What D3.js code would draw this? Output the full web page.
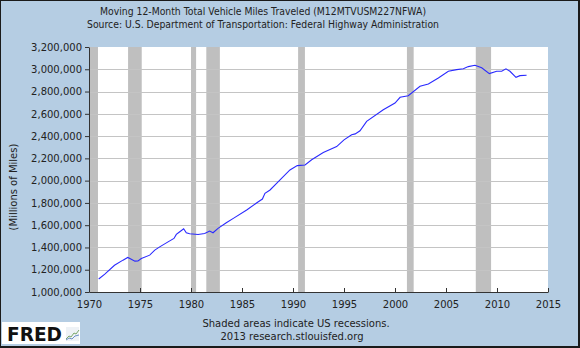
<!DOCTYPE html>
<html>
<head>
<meta charset="utf-8">
<script src="https://cdn.jsdelivr.net/npm/d3@7"></script>
<style>
  body { margin: 0; padding: 0; background: #fff; }
  svg text { font-family: "DejaVu Sans", Verdana, sans-serif; fill: #222; }
</style>
</head>
<body>
<svg id="chart" width="580" height="348"></svg>
<script>
// vehicle miles traveled, moving 12-month total (millions of miles)
var years = [1970.95, 1971.55, 1972.5, 1973.33, 1973.8, 1974.1, 1974.5, 1974.8, 1975.13, 1975.95,
	1976.45, 1976.93, 1977.75, 1978.33, 1978.56, 1978.9, 1979.28, 1979.54, 1979.87, 1980.69,
	1981.34, 1981.83, 1982.16, 1982.65, 1983.46, 1984.15, 1985.46, 1986.6, 1987.0, 1987.25,
	1987.75, 1988.56, 1989.7, 1990.42, 1991.18, 1991.83, 1992.97, 1994.28, 1995.0, 1995.75,
	1996.1, 1996.57, 1997.22, 1998.85, 2000.0, 2000.5, 2001.3, 2002.45, 2003.27, 2004.25,
	2005.23, 2006.05, 2006.7, 2007.19, 2007.84, 2008.5, 2009.25, 2009.97, 2010.46, 2010.88,
	2011.27, 2011.86, 2012.25, 2012.9]
var miles = [1117000, 1160000, 1240000, 1286000, 1310000, 1297000, 1277000, 1279000, 1301000, 1331000,
	1376000, 1405000, 1450000, 1481000, 1517000, 1541000, 1568000, 1532000, 1523000, 1517000,
	1526000, 1547000, 1532000, 1571000, 1622000, 1661000, 1736000, 1811000, 1835000, 1886000,
	1916000, 1991000, 2096000, 2135000, 2141000, 2187000, 2252000, 2306000, 2366000, 2412000,
	2420000, 2448000, 2532000, 2637000, 2697000, 2748000, 2763000, 2847000, 2868000, 2922000,
	2982000, 2997000, 3004000, 3024000, 3036000, 3013000, 2961000, 2982000, 2982000, 3004000,
	2982000, 2928000, 2943000, 2946000]

// NBER recessions, start/end as decimal years
var recessionStart = [1969.92, 1973.83, 1980.0, 1981.5, 1990.5, 2001.17, 2007.92]
var recessionEnd = [1970.88, 1975.17, 1980.5, 1982.83, 1991.17, 2001.83, 2009.42]

var xTicks = [1970, 1975, 1980, 1985, 1990, 1995, 2000, 2005, 2010, 2015]
var yTicks = [1000000, 1200000, 1400000, 1600000, 1800000, 2000000, 2200000, 2400000, 2600000, 2800000, 3000000, 3200000]

var svg = d3.select('#chart')
var W = 580, H = 348
var plotLeft = 89, plotRight = 548, plotTop = 47, plotBottom = 292

// page background + frame
svg.append('rect').attr('x', 0).attr('y', 0).attr('width', W).attr('height', H).attr('fill', '#b5cde3')
svg.append('rect').attr('x', 0.5).attr('y', 0.5).attr('width', W - 2).attr('height', H - 2)
	.attr('fill', 'none').attr('stroke', '#1a1a1a').attr('stroke-width', 1)
svg.append('line').attr('x1', W - 1).attr('x2', W - 1).attr('y1', 0).attr('y2', H).attr('stroke', '#1a1a1a').attr('stroke-width', 2)
svg.append('line').attr('x1', 0).attr('x2', W).attr('y1', H - 1).attr('y2', H - 1).attr('stroke', '#1a1a1a').attr('stroke-width', 2)

xScale = d3.scaleLinear().domain([1970, 2015]).range([plotLeft, plotRight])
yScale = d3.scaleLinear().domain([1000000, 3200000]).range([plotBottom, plotTop])

svg.append('rect')
	.attr('x', plotLeft).attr('y', plotTop)
	.attr('width', plotRight - plotLeft).attr('height', plotBottom - plotTop)
	.attr('fill', '#fff')

// recession bands
svg.append('g').selectAll('rect')
	.data(recessionStart)
	.enter()
	.append('rect')
	.attr('x', function (d) { return xScale(Math.max(d, 1970)) })
	.attr('y', plotTop)
	.attr('width', function (d, i) { return xScale(recessionEnd[i]) - xScale(Math.max(d, 1970)) })
	.attr('height', plotBottom - plotTop)
	.attr('fill', '#bfbfbf')

// horizontal grid
svg.append('g').selectAll('line')
	.data(yTicks.slice(1, -1))
	.enter()
	.append('line')
	.attr('x1', plotLeft).attr('x2', plotRight)
	.attr('y1', function (d) { return Math.round(yScale(d)) + 0.5 })
	.attr('y2', function (d) { return Math.round(yScale(d)) + 0.5 })
	.attr('stroke', '#c4c4c4').attr('stroke-width', 1)

// series
var pts = years.map(function (y, i) { return [xScale(y), yScale(miles[i])] })
svg.append('path')
	.attr('d', d3.line()(pts))
	.attr('fill', 'none')
	.attr('stroke', '#2a2aff')
	.attr('stroke-width', 1.1)

// axes
var yAxis = svg.append('g')
	.attr('transform', 'translate(' + plotLeft + ',0)')
	.call(d3.axisLeft(yScale).tickValues(yTicks).tickFormat(d3.format(',')).tickSizeInner(4).tickSizeOuter(0).tickPadding(3))
var xAxis = svg.append('g')
	.attr('transform', 'translate(0,' + plotBottom + ')')
	.call(d3.axisBottom(xScale).tickValues(xTicks).tickFormat(d3.format('d')).tickSizeInner(-4).tickSizeOuter(0).tickPadding(9))
svg.selectAll('.domain, .tick line').attr('stroke', '#333')
svg.selectAll('.tick text').attr('font-size', 10).attr('fill', '#222')
svg.selectAll('.tick text').style('font-family', '"DejaVu Sans", Verdana, sans-serif')

// titles
svg.append('text').attr('x', 263).attr('y', 15).attr('text-anchor', 'middle').attr('font-size', 10)
	.attr('textLength', 326).attr('lengthAdjust', 'spacingAndGlyphs')
	.text('Moving 12-Month Total Vehicle Miles Traveled (M12MTVUSM227NFWA)')
svg.append('text').attr('x', 263).attr('y', 28).attr('text-anchor', 'middle').attr('font-size', 10)
	.attr('textLength', 352).attr('lengthAdjust', 'spacingAndGlyphs')
	.text('Source: U.S. Department of Transportation: Federal Highway Administration')
svg.append('text').attr('transform', 'translate(17,187) rotate(-90)').attr('text-anchor', 'middle').attr('font-size', 10)
	.text('(Millions of Miles)')
svg.append('text').attr('x', 296).attr('y', 327).attr('text-anchor', 'middle').attr('font-size', 10)
	.text('Shaded areas indicate US recessions.')
svg.append('text').attr('x', 292).attr('y', 340).attr('text-anchor', 'middle').attr('font-size', 10)
	.text('2013 research.stlouisfed.org')

// FRED logo
var logo = svg.append('g')
logo.append('rect').attr('x', 2).attr('y', 322).attr('width', 78).attr('height', 22).attr('fill', '#fff')
logo.append('text').attr('x', 7).attr('y', 341).attr('font-size', 19).attr('font-weight', 'bold')
	.attr('textLength', 55).attr('lengthAdjust', 'spacingAndGlyphs')
	.style('fill', '#111').text('FRED')
logo.append('rect').attr('x', 66).attr('y', 327).attr('width', 13).attr('height', 14).attr('fill', '#eef2f6')
logo.append('path').attr('d', 'M66,339 L69,336 L71,337 L74,333 L76,334 L79,330')
	.attr('fill', 'none').attr('stroke', '#7aa86a').attr('stroke-width', 1)
logo.append('path').attr('d', 'M66,340 L69,338 L72,339 L75,336 L79,335')
	.attr('fill', 'none').attr('stroke', '#6b8fc4').attr('stroke-width', 1)
</script>
</body>
</html>
